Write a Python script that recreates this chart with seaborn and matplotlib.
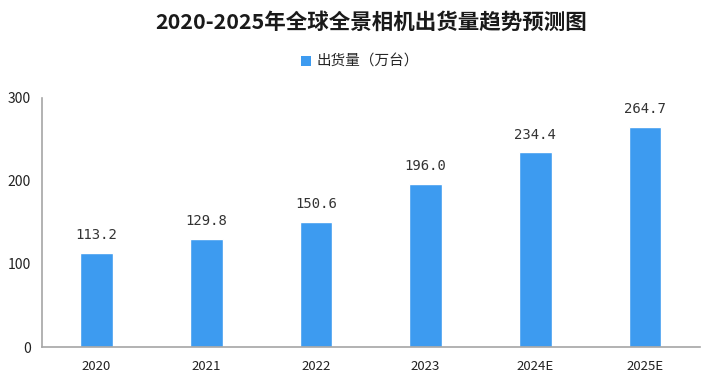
import matplotlib
matplotlib.use("Agg")
import matplotlib.pyplot as plt
import seaborn as sns
import pandas as pd
import numpy as np
from matplotlib.patches import Patch

categories = ["2020", "2021", "2022", "2023", "2024E", "2025E"]
values = [113.2, 129.8, 150.6, 196.0, 234.4, 264.7]
series_name = "出货量（万台）"
title = "2020-2025年全球全景相机出货量趋势预测图"
yticks = [0, 100, 200, 300]

sns.set_theme(style="white")
plt.rcParams['font.family'] = ['Noto Sans CJK SC', 'DejaVu Sans']

df = pd.DataFrame({"year": categories, "value": values})
color = "#3d9bf0"
axis_color = "#a6a6a6"

fig = plt.figure(figsize=(7.2, 3.78), dpi=100)
ax = fig.add_axes([0.058, 0.082, 0.914, 0.659])
sns.barplot(data=df, x="year", y="value", color=color, width=0.3, ax=ax, saturation=1)

ax.set_xlim(-0.5, 5.5)
ax.set_ylim(0, 300)
ax.set_yticks(yticks)
ax.set_yticklabels([str(t) for t in yticks], fontsize=10, color="#222222")
ax.set_xlabel("")
ax.set_ylabel("")
for s in ["top", "right"]:
    ax.spines[s].set_visible(False)
for s in ["left", "bottom"]:
    ax.spines[s].set_color(axis_color)
    ax.spines[s].set_linewidth(1.2)

ax.tick_params(axis="x", which="major", length=0, labelsize=9.5, labelcolor="#222222", pad=9)
ax.set_xticks(np.arange(-0.5, 6, 1), minor=True)
ax.tick_params(axis="x", which="minor", direction="in", length=5, color=axis_color, width=1.2)
ax.tick_params(axis="y", which="major", direction="in", length=5, color=axis_color, width=1.2, pad=8)

for i, v in enumerate(values):
    ax.text(i, v + 13, f"{v:.1f}", ha="center", va="bottom", fontsize=10,
            color="#333333", family=["DejaVu Sans Mono", "DejaVu Sans"])

fig.text(0.515, 0.942, title, ha="center", va="center", fontsize=15.5, fontweight="bold", color="#1a1a1a")
handles = [Patch(facecolor=color, edgecolor="none", label=series_name)]
fig.legend(handles=handles, loc="center", bbox_to_anchor=(0.5, 0.836), frameon=False,
           fontsize=10.5, handlelength=0.7, handleheight=0.7, handletextpad=0.4)

fig.savefig("out.png", dpi=100)
